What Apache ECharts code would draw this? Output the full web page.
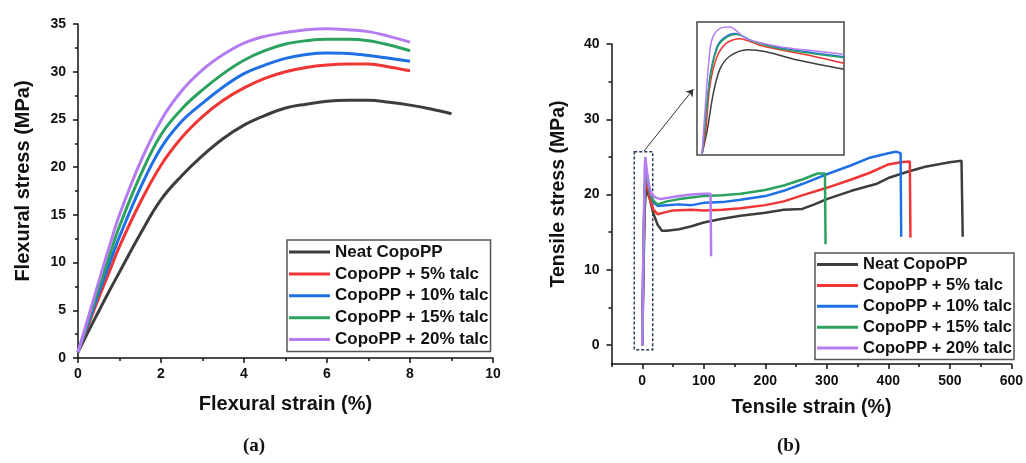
<!DOCTYPE html>
<html lang="en">
<head>
	<meta charset="UTF-8">
	<title>Flexural and tensile curves</title>
	<script src="https://cdn.jsdelivr.net/npm/echarts@6/dist/echarts.min.js"></script>
	<style>
		html, body { margin: 0; padding: 0; background: #fff; }
	</style>
</head>
<body>
	<div id="chart" style="width:1026px; height:463px;"></div>
	<script>
	// series names and colours
	var names = ['Neat CopoPP', 'CopoPP + 5% talc', 'CopoPP + 10% talc', 'CopoPP + 15% talc', 'CopoPP + 20% talc'];
	var colors = ['#3d3d3d', '#f03535', '#1f6fe5', '#2ca25f', '#b47cf0'];

	// (a) flexural strain (%) vs flexural stress (MPa)
	var flexNeat = [[0,0.6],[0.25,2.8],[0.5,4.9],[0.75,7.0],[1,9.0],[1.5,13.0],[2,16.6],[2.5,19.1],[3,21.2],[3.5,23.0],[4,24.4],[4.5,25.4],[5,26.2],[5.5,26.6],[6,26.9],[6.5,27.0],[7,27.0],[7.5,26.8],[8,26.5],[8.5,26.1],[9,25.6]];
	var flex5 = [[0,0.6],[0.25,3.5],[0.5,6.3],[0.75,9.0],[1,11.7],[1.5,16.3],[2,20.2],[2.5,23.1],[3,25.3],[3.5,27.0],[4,28.3],[4.5,29.3],[5,30.0],[5.5,30.45],[6,30.7],[6.5,30.8],[7,30.8],[7.5,30.5],[8,30.1]];
	var flex10 = [[0,0.6],[0.25,3.7],[0.5,6.8],[0.75,9.8],[1,12.7],[1.5,17.8],[2,22.0],[2.5,24.8],[3,26.7],[3.5,28.4],[4,29.8],[4.5,30.7],[5,31.4],[5.5,31.8],[6,31.95],[6.5,31.9],[7,31.7],[7.5,31.4],[8,31.1]];
	var flex15 = [[0,0.6],[0.25,4.0],[0.5,7.3],[0.75,10.6],[1,13.8],[1.5,19.1],[2,23.4],[2.5,26.1],[3,28.1],[3.5,29.8],[4,31.2],[4.5,32.2],[5,32.9],[5.5,33.25],[6,33.4],[6.5,33.4],[7,33.25],[7.5,32.8],[8,32.2]];
	var flex20 = [[0,0.6],[0.25,4.3],[0.5,8.0],[0.75,11.6],[1,15.0],[1.5,20.5],[2,24.9],[2.5,28.0],[3,30.2],[3.5,31.8],[4,33.0],[4.5,33.7],[5,34.1],[5.5,34.4],[6,34.5],[6.5,34.4],[7,34.2],[7.5,33.7],[8,33.1]];

	// (b) tensile strain (%) vs tensile stress (MPa)
	var tenNeat = [[0,0],[2,10],[4,18],[6,20.8],[8,20.6],[12,19.5],[18,17.5],[25,16],[32,15.2],[40,15.2],[60,15.4],[80,15.8],[100,16.3],[130,16.8],[160,17.2],[200,17.6],[230,18],[260,18.1],[280,18.7],[300,19.4],[340,20.5],[380,21.4],[400,22.2],[430,23],[460,23.7],[500,24.3],[519,24.5],[521,14.4]];
	var ten5 = [[0,0],[2,12],[4,20],[6,22.3],[8,21.5],[12,19.5],[18,18],[25,17.4],[35,17.6],[50,17.9],[80,18],[100,17.9],[130,18],[160,18.2],[200,18.6],[230,19.1],[260,19.9],[300,20.9],[340,22],[370,22.9],[400,24],[420,24.3],[435,24.4],[436,14.3]];
	var ten10 = [[0,0],[2,13],[4,21],[6,23.3],[8,22.5],[12,20.5],[18,19],[25,18.5],[40,18.6],[60,18.7],[80,18.6],[100,18.9],[130,19],[160,19.3],[200,19.8],[230,20.5],[260,21.4],[300,22.7],[340,23.9],[370,24.9],[400,25.5],[412,25.7],[420,25.5],[421,14.4]];
	var ten15 = [[0,0],[2,13],[4,21],[6,23.2],[8,22.3],[12,20.5],[18,19.2],[25,18.7],[40,19.1],[60,19.4],[80,19.6],[100,19.8],[130,19.9],[160,20.1],[200,20.6],[230,21.2],[260,22],[285,22.8],[297,22.8],[298,13.4]];
	var ten20 = [[0,0],[2,14],[4,23.5],[5,25],[7,23.5],[10,21.5],[15,20],[22,19.6],[30,19.4],[45,19.6],[60,19.8],[80,20],[100,20.1],[111,20.1],[112,11.8]];

	// inset: zoom on the yield region (strain 0-20 %, stress 0-26 MPa)
	var insNeat = [[0.7,0.3],[1.4,5],[2.2,12.1],[3.1,17],[4.45,19.6],[6.9,20.9],[9.4,20.5],[13.5,18.9],[20,17.0]];
	var ins5 = [[0.7,0.3],[1.2,5],[1.73,13.4],[2.64,19.2],[4,22.2],[5.8,23.1],[8.5,21.8],[11.25,20.9],[15.8,19.6],[20,18.2]];
	var ins10 = [[0.7,0.3],[1.1,6],[1.73,15.3],[2.64,21.2],[3.54,23.1],[5.1,24.1],[7.6,22.6],[11.25,21.3],[15.8,20.3],[20,19.5]];
	var ins15 = [[0.7,0.3],[1.1,6],[1.75,15.0],[2.7,21.0],[3.7,23.0],[5.4,23.9],[7.8,22.4],[11.25,21.1],[15.8,20.1],[20,19.3]];
	var ins20 = [[0.7,0.3],[1.0,7],[1.73,20.5],[2.18,23.5],[3.1,25.1],[4.45,25.4],[6.7,23.1],[11.25,21.5],[15.8,20.7],[20,20.0]];

	// tick labels
	var tenXTicks = [0, 100, 200, 300, 400, 500, 600];
	var tenXMinor = [-50, 50, 150, 250, 350, 450, 550];
	var tenYTicks = [0, 10, 20, 30, 40];
	var tenYMinor = [5, 15, 25, 35];

	var flexData = [flexNeat, flex5, flex10, flex15, flex20];
	var tenData = [tenNeat, ten5, ten10, ten15, ten20];
	var insData = [insNeat, ins5, ins10, ins15, ins20];

	var font = 'Liberation Sans, Arial, sans-serif';
	var axisLine = {show: true, onZero: false, lineStyle: {color: '#111', width: 1.5}};
	var tickLabel = {color: '#111', fontFamily: font, fontWeight: 'bold', fontSize: 14};

	var myChart = echarts.init(document.getElementById('chart'));

	var series = [];
	flexData.forEach(function (d, i) {
		series.push({name: names[i], type: 'line', xAxisIndex: 0, yAxisIndex: 0, data: d,
			smooth: 0.4, showSymbol: false, lineStyle: {width: 3, color: colors[i]}, itemStyle: {color: colors[i]}});
	});
	tenData.forEach(function (d, i) {
		var s = {name: names[i], type: 'line', xAxisIndex: 1, yAxisIndex: 1, data: d,
			showSymbol: false, lineStyle: {width: 2.5, color: colors[i]}, itemStyle: {color: colors[i]}};
		if (i === 0) {
			// dashed frame round the yield region and the arrow to the inset
			s.markArea = {silent: true, itemStyle: {color: 'rgba(0,0,0,0)', borderColor: '#2b3d5e', borderWidth: 1.5, borderType: [3, 2]},
				data: [[{coord: [-13, 25.7]}, {coord: [17, -0.6]}]]};
			s.markLine = {silent: true, symbol: ['none', 'arrow'], symbolSize: 7, label: {show: false},
				lineStyle: {color: '#333', width: 1, type: 'solid'},
				data: [[{coord: [3, 25.8]}, {coord: [83, 34]}]]};
		}
		series.push(s);
	});
	insData.forEach(function (d, i) {
		series.push({name: names[i], type: 'line', xAxisIndex: 3, yAxisIndex: 3, data: d, z: 10,
			smooth: 0.3, showSymbol: false, lineStyle: {width: 1.5, color: colors[i]}, itemStyle: {color: colors[i]}});
	});

	function legendAt(left, top, size, lh) {
		return {
			left: left, top: top, orient: 'vertical', data: names,
			icon: 'rect', itemWidth: 41, itemHeight: 3, itemGap: 3.9,
			padding: [3, 2, 3, 2], borderColor: '#555', borderWidth: 1.5, backgroundColor: '#fff',
			textStyle: {color: '#111', fontFamily: font, fontWeight: 'bold', fontSize: size, lineHeight: lh}
		};
	}

	option = {
		animation: false,
		backgroundColor: '#fff',
		grid: [
			{left: 78, top: 24, width: 415, height: 334},
			{left: 611.5, top: 44, width: 401, height: 320},
			{left: 697, top: 22, width: 147, height: 133, show: true, borderColor: '#444', borderWidth: 1.5, backgroundColor: '#fff'}
		],
		legend: [legendAt(287, 240, 17, 18), legendAt(815, 253, 16.5, 17)],
		xAxis: [
			{gridIndex: 0, type: 'value', min: 0, max: 10, interval: 2,
				name: 'Flexural strain (%)', nameLocation: 'middle', nameGap: 36,
				nameTextStyle: {color: '#111', fontFamily: font, fontWeight: 'bold', fontSize: 20},
				axisLine: axisLine, axisTick: {length: 5, lineStyle: {color: '#111', width: 1.5}},
				minorTick: {show: true, splitNumber: 2, length: 3, lineStyle: {color: '#111', width: 1.5}},
				axisLabel: Object.assign({margin: 9}, tickLabel), splitLine: {show: false}},
			{gridIndex: 1, type: 'value', min: -50, max: 600, position: 'bottom',
				name: 'Tensile strain (%)', nameLocation: 'middle', nameGap: 34,
				nameTextStyle: {color: '#111', fontFamily: font, fontWeight: 'bold', fontSize: 19.5},
				axisLine: axisLine, axisTick: {customValues: tenXTicks, length: 5, lineStyle: {color: '#111', width: 1.5}},
				axisLabel: Object.assign({customValues: tenXTicks, margin: 10}, tickLabel), splitLine: {show: false}},
			{gridIndex: 1, type: 'value', min: -50, max: 600, position: 'bottom', offset: 0,
				axisLine: {show: false, onZero: false}, axisTick: {customValues: tenXMinor, length: 3, lineStyle: {color: '#111', width: 1.5}},
				axisLabel: {show: false, customValues: tenXMinor}, splitLine: {show: false}},
			{gridIndex: 2, type: 'value', min: 0, max: 20, show: false}
		],
		yAxis: [
			{gridIndex: 0, type: 'value', min: 0, max: 35, interval: 5,
				name: 'Flexural stress (MPa)', nameLocation: 'middle', nameGap: 45,
				nameTextStyle: {color: '#111', fontFamily: font, fontWeight: 'bold', fontSize: 20, padding: [0, 0, 0, 20]},
				axisLine: axisLine, axisTick: {length: 5, lineStyle: {color: '#111', width: 1.5}},
				minorTick: {show: true, splitNumber: 2, length: 3, lineStyle: {color: '#111', width: 1.5}},
				axisLabel: Object.assign({margin: 12}, tickLabel), splitLine: {show: false}},
			{gridIndex: 1, type: 'value', min: -2.5, max: 40, position: 'left',
				name: 'Tensile stress (MPa)', nameLocation: 'middle', nameGap: 43,
				nameTextStyle: {color: '#111', fontFamily: font, fontWeight: 'bold', fontSize: 19.5, padding: [0, 0, 0, 20]},
				axisLine: axisLine, axisTick: {customValues: tenYTicks, length: 5, lineStyle: {color: '#111', width: 1.5}},
				axisLabel: Object.assign({customValues: tenYTicks, margin: 12}, tickLabel), splitLine: {show: false}},
			{gridIndex: 1, type: 'value', min: -2.5, max: 40, position: 'left', offset: 0,
				axisLine: {show: false, onZero: false}, axisTick: {customValues: tenYMinor, length: 3, lineStyle: {color: '#111', width: 1.5}},
				axisLabel: {show: false, customValues: tenYMinor}, splitLine: {show: false}},
			{gridIndex: 2, type: 'value', min: 0, max: 26.4, show: false}
		],
		graphic: [
			{type: 'text', left: 243, top: 437, style: {text: '(a)', fill: '#111', font: 'bold 19px "Liberation Serif", "Times New Roman", serif'}},
			{type: 'text', left: 777, top: 437, style: {text: '(b)', fill: '#111', font: 'bold 19px "Liberation Serif", "Times New Roman", serif'}}
		],
		series: series
	};

	myChart.setOption(option, true);
	</script>
</body>
</html>
